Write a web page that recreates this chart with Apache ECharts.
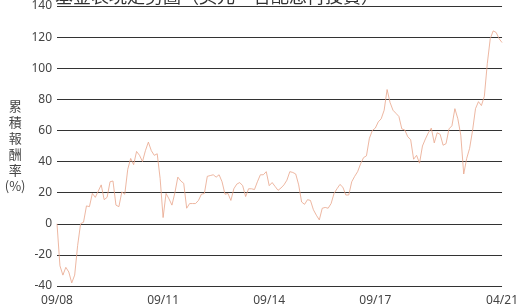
<!DOCTYPE html>
<html>
<head>
<meta charset="utf-8">
<script src="https://cdn.jsdelivr.net/npm/echarts@6/dist/echarts.min.js"></script>
<style>
  html, body { margin: 0; padding: 0; background: #fff; }
  #chart { width: 521px; height: 307px; }
</style>
</head>
<body>
<div id="chart"></div>
<script>
// 月份 2008/09 ~ 2021/04
const startYear = 2008
const startMonth = 9
const monthCount = 152
const labelIndexes = [0, 36, 72, 108, 151]

const yTicks = [-40, -20, 0, 20, 40, 60, 80, 100, 120, 140]

// 累積報酬率(%) 每月
const cumReturn = [
  0, -27, -33, -28, -31, -38, -33, -14, 0, 1,
  11.5, 11, 19.5, 17, 21, 25, 15.5, 17, 27, 27.5,
  12, 11, 20.5, 19, 35, 42, 38, 46.5, 44, 40,
  47, 52.5, 47, 44, 45, 29, 4, 19.5, 16, 12,
  20, 30, 27.5, 26, 10, 13, 13, 13, 15, 19,
  19.5, 30.5, 31, 31.5, 30, 31.5, 27, 19, 19.5, 15,
  22.5, 25.5, 26.5, 24.5, 17.5, 22.5, 22.5, 22, 27, 31.5,
  31.5, 33.5, 24.5, 26.5, 24, 21.5, 23, 25, 28, 33.5,
  33, 32, 25, 14, 12.5, 15.5, 15, 9, 5.5, 2.5,
  10, 10.5, 10, 13, 19.5, 22.5, 25.3, 23.5, 18.5, 18.5,
  27, 30.5, 33.5, 38.5, 42.5, 43.7, 55, 60, 61.5, 65.5,
  67.5, 73, 86.3, 78, 73, 71, 69, 61, 60.3, 56,
  54, 41.5, 44, 39, 50, 54.5, 58.5, 61.5, 52, 58.5,
  57.5, 50.5, 51.5, 61, 63, 74, 67.5, 57, 32, 42,
  48.5, 60, 74, 78.5, 76, 82, 103, 119, 124, 123,
  119, 116.5
]

const months = []
for (let i = 0; i < monthCount; i++) {
  const m = (startMonth - 1 + i) % 12 + 1
  const y = startYear + Math.floor((startMonth - 1 + i) / 12)
  months.push(String(m).padStart(2, '0') + '/' + String(y % 100).padStart(2, '0'))
}

const chart = echarts.init(document.getElementById('chart'))

const option = {
  animation: false,
  textStyle: { fontFamily: '"Noto Sans", "Noto Sans CJK TC", sans-serif' },
  title: {
    text: '基金表現走勢圖（美元，含配息再投資）',
    left: 50,
    top: -18,
    textStyle: {
      fontSize: 18,
      fontWeight: 'normal',
      color: '#333',
      fontFamily: '"Noto Sans CJK TC", sans-serif'
    }
  },
  grid: {
    left: 57,
    right: 15,
    top: 5,
    bottom: 18
  },
  xAxis: {
    type: 'category',
    boundaryGap: false,
    data: months,
    axisLine: { show: false },
    axisTick: { show: false },
    axisLabel: {
      interval: (index) => labelIndexes.includes(index),
      showMaxLabel: true,
      color: '#444',
      fontSize: 12,
      margin: 9
    }
  },
  yAxis: {
    type: 'value',
    min: yTicks[0],
    max: yTicks[yTicks.length - 1],
    interval: 20,
    name: '累\n積\n報\n酬\n率\n(%)',
    nameLocation: 'middle',
    nameRotate: 0,
    nameGap: 40,
    nameTextStyle: {
      color: '#444',
      fontSize: 13,
      lineHeight: 16,
      align: 'center',
      fontFamily: '"Noto Sans CJK TC", sans-serif'
    },
    axisLine: { show: false },
    axisTick: { show: false },
    axisLabel: {
      color: '#444',
      fontSize: 12,
      margin: 5
    },
    splitLine: {
      lineStyle: { color: '#333', width: 1 }
    }
  },
  series: [
    {
      name: '累積報酬率',
      type: 'line',
      data: cumReturn,
      showSymbol: false,
      lineStyle: { color: '#E9A58A', width: 0.8 },
      itemStyle: { color: '#E9A58A' }
    }
  ]
}

chart.setOption(option)
</script>
</body>
</html>
